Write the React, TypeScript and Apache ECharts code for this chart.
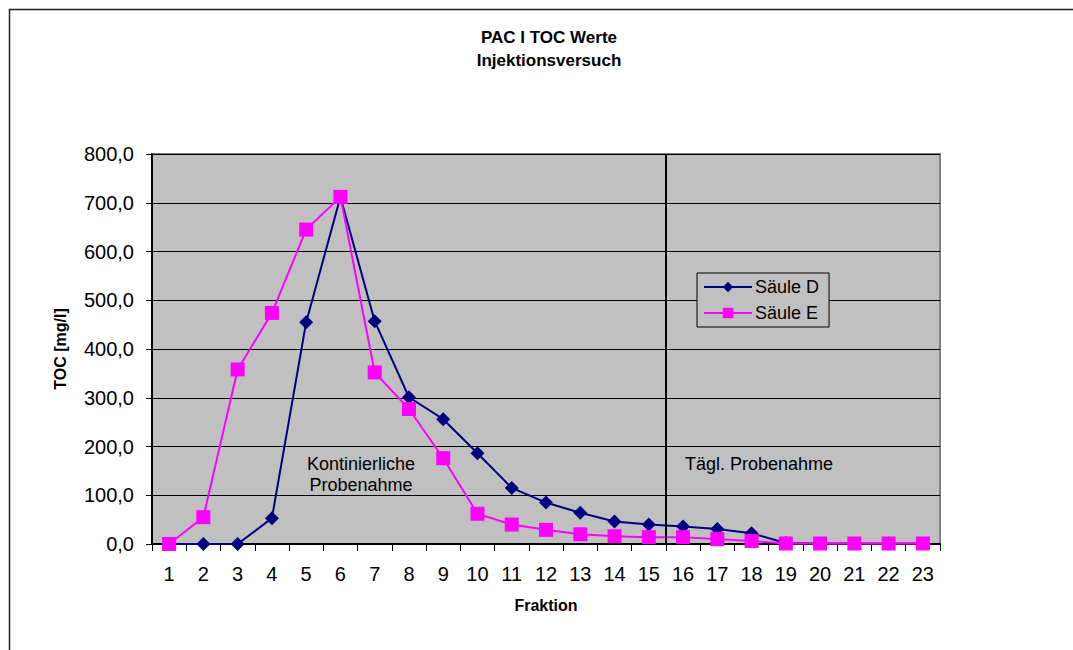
import React, { useEffect, useRef } from "react";
import * as echarts from "echarts";

const categories = ["1","2","3","4","5","6","7","8","9","10","11","12","13","14","15","16","17","18","19","20","21","22","23"];
const saeuleD = [0, 0, 0, 53, 455, 712, 457, 301, 256, 186, 115, 85, 64, 46, 40, 36, 31, 22, 2, 1, 1, 1, 1];
const saeuleE = [0, 55, 358, 474, 645, 712, 352, 277, 176, 62, 40, 29, 20, 16, 14, 14, 10, 6, 1, 1, 1, 1, 1];
const seriesNames = ["Säule D", "Säule E"];
const yTicks = { min: 0, max: 800, interval: 100 };
const dividerAt = 15.5;

const FONT = "'Liberation Sans', Arial, sans-serif";

export default function App() {
  const ref = useRef<HTMLDivElement>(null);
  useEffect(() => {
    document.body.style.margin = "0";
    const chart = echarts.init(ref.current!, null, { renderer: "svg" });
    chart.setOption({
      animation: false,
      backgroundColor: "#ffffff",
      textStyle: { fontFamily: FONT, color: "#000" },
      title: {
        text: "PAC I TOC Werte\nInjektionsversuch",
        left: 544,
        top: 21,
        textAlign: "center",
        textStyle: { fontFamily: FONT, fontSize: 17, fontWeight: "bold", color: "#000", lineHeight: 23 },
      },
      legend: {
        orient: "vertical",
        left: 697,
        top: 273,
        padding: [5, 10, 5, 6],
        itemGap: 8,
        itemWidth: 48,
        itemHeight: 13,
        backgroundColor: "#C0C0C0",
        borderColor: "#000",
        borderWidth: 1,
        borderRadius: 0,
        textStyle: { fontFamily: FONT, fontSize: 18, color: "#000", padding: [0, 0, 0, -2] },
        data: seriesNames,
      },
      grid: {
        left: 152,
        top: 154,
        right: 133,
        bottom: 106,
        show: true,
        backgroundColor: "#C0C0C0",
        borderColor: "#808080",
        borderWidth: 2,
      },
      xAxis: [
        {
          type: "category",
          data: categories,
          boundaryGap: true,
          name: "Fraktion",
          nameLocation: "middle",
          nameGap: 53,
          nameTextStyle: { fontFamily: FONT, fontSize: 16, fontWeight: "bold", color: "#000" },
          axisLine: { lineStyle: { color: "#000", width: 2 } },
          axisTick: { show: true, alignWithLabel: false, length: 7, lineStyle: { color: "#000" } },
          axisLabel: { fontFamily: FONT, fontSize: 20, color: "#000", margin: 20 },
          splitLine: { show: false },
        },
        {
          type: "value",
          min: 0.5,
          max: 23.5,
          show: false,
        },
      ],
      yAxis: {
        type: "value",
        min: yTicks.min,
        max: yTicks.max,
        interval: yTicks.interval,
        name: "TOC [mg/l]",
        nameLocation: "middle",
        nameGap: 84,
        nameTextStyle: { fontFamily: FONT, fontSize: 16, fontWeight: "bold", color: "#000" },
        axisLine: { show: true, lineStyle: { color: "#000", width: 2 } },
        axisTick: { show: true, length: 6, lineStyle: { color: "#000" } },
        axisLabel: {
          fontFamily: FONT,
          fontSize: 20,
          color: "#000",
          margin: 18,
          formatter: (v: number) => v.toFixed(1).replace(".", ","),
        },
        splitLine: { show: true, lineStyle: { color: "#000", width: 1 } },
      },
      series: [
        {
          name: "divider",
          type: "line",
          xAxisIndex: 1,
          data: [],
          silent: true,
          markLine: {
            symbol: "none",
            silent: true,
            label: { show: false },
            lineStyle: { color: "#000", width: 2, type: "solid" },
            data: [{ xAxis: dividerAt }],
          },
        },
        {
          name: seriesNames[0],
          type: "line",
          data: saeuleD,
          symbol: "diamond",
          symbolSize: 14,
          itemStyle: { color: "#000080" },
          lineStyle: { color: "#000080", width: 2 },
          z: 3,
        },
        {
          name: seriesNames[1],
          type: "line",
          data: saeuleE,
          symbol: "rect",
          symbolSize: 14,
          itemStyle: { color: "#FF00FF" },
          lineStyle: { color: "#FF00FF", width: 2 },
          z: 4,
        },
      ],
      graphic: [
        {
          type: "rect",
          left: 7,
          top: 7,
          shape: { x: 0, y: 0, width: 1100, height: 700 },
          style: { fill: "none", stroke: "#222", lineWidth: 1.5 },
          silent: true,
          z: 100,
        },
        {
          type: "text",
          x: 361,
          y: 474,
          style: {
            text: "Kontinierliche\nProbenahme",
            fontFamily: FONT,
            fontSize: 18,
            lineHeight: 21,
            fill: "#000",
            align: "center",
            verticalAlign: "middle",
          },
          z: 10,
        },
        {
          type: "text",
          x: 685,
          y: 464,
          style: {
            text: "Tägl. Probenahme",
            fontFamily: FONT,
            fontSize: 18,
            fill: "#000",
            align: "left",
            verticalAlign: "middle",
          },
          z: 10,
        },
      ],
    });
    return () => chart.dispose();
  }, []);
  return <div ref={ref} style={{ width: 1073, height: 650 }} />;
}
